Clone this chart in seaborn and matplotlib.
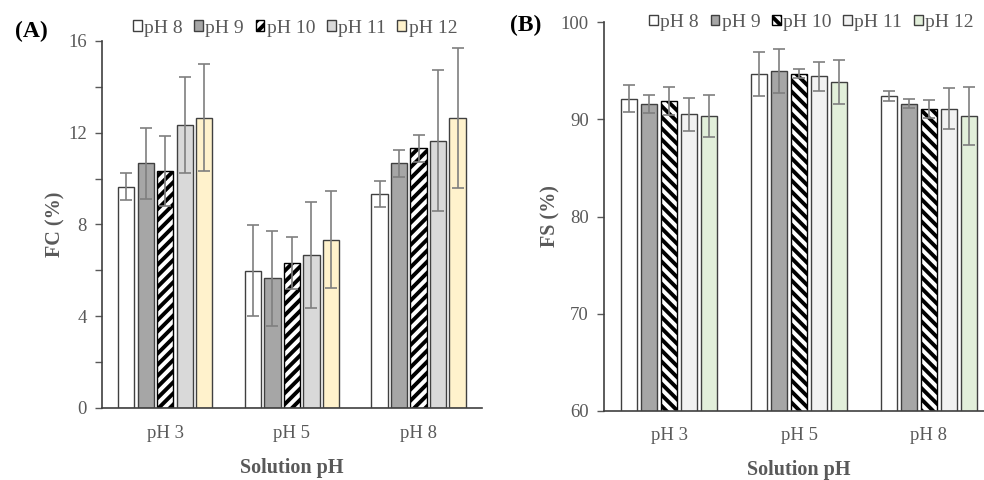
import numpy as np
import pandas as pd
import matplotlib
matplotlib.use("Agg")
import matplotlib.pyplot as plt
import seaborn as sns
from matplotlib.patches import Patch
from matplotlib.ticker import MultipleLocator

categories = ["pH 3", "pH 5", "pH 8"]
series = ["pH 8", "pH 9", "pH 10", "pH 11", "pH 12"]

# Panel A: FC (%)
fc_mean = {
    "pH 8":  [9.65, 5.99, 9.33],
    "pH 9":  [10.67, 5.65, 10.67],
    "pH 10": [10.34, 6.32, 11.32],
    "pH 11": [12.33, 6.66, 11.66],
    "pH 12": [12.66, 7.34, 12.66],
}
fc_err = {
    "pH 8":  [0.60, 2.00, 0.57],
    "pH 9":  [1.55, 2.08, 0.58],
    "pH 10": [1.52, 1.15, 0.58],
    "pH 11": [2.10, 2.30, 3.06],
    "pH 12": [2.32, 2.10, 3.05],
}
# Panel B: FS (%)
fs_mean = {
    "pH 8":  [92.15, 94.70, 92.40],
    "pH 9":  [91.62, 95.02, 91.60],
    "pH 10": [91.90, 94.72, 91.07],
    "pH 11": [90.56, 94.43, 91.10],
    "pH 12": [90.32, 93.85, 90.35],
}
fs_err = {
    "pH 8":  [1.35, 2.27, 0.48],
    "pH 9":  [0.93, 2.27, 0.47],
    "pH 10": [1.45, 0.48, 0.90],
    "pH 11": [1.70, 1.50, 2.10],
    "pH 12": [2.15, 2.23, 2.95],
}

colors_a = ["#ffffff", "#a6a6a6", "#ffffff", "#d9d9d9", "#fff2cc"]
colors_b = ["#ffffff", "#a6a6a6", "#ffffff", "#f2f2f2", "#e2efda"]

sns.set_theme(style="white")
plt.rcParams["font.family"] = ["Liberation Serif", "DejaVu Serif"]
plt.rcParams["hatch.linewidth"] = 2.8
plt.rcParams["hatch.color"] = "black"

TXT = "#595959"

fig = plt.figure(figsize=(9.84, 4.8), dpi=100)
axA = fig.add_axes([0.1037, 0.15, 0.386, 0.7646])
axB = fig.add_axes([0.614, 0.1444, 0.396, 0.809])


def long_df(mean):
    rows = []
    for s in series:
        for c, v in zip(categories, mean[s]):
            rows.append({"cat": c, "series": s, "val": v})
    return pd.DataFrame(rows)


def draw(ax, mean, err, colors, hatch, ylim, major, minor, ylabel, xpad, ypad):
    df = long_df(mean)
    sns.barplot(data=df, x="cat", y="val", hue="series", order=categories,
                hue_order=series, palette=colors, errorbar=None,
                edgecolor="#404040", linewidth=1.0, width=0.77, gap=0.17,
                legend=False, ax=ax, saturation=1)
    for i, (cont, s) in enumerate(zip(ax.containers, series)):
        xs = [b.get_x() + b.get_width() / 2 for b in cont]
        ys = [b.get_height() for b in cont]
        if i == 2:
            for b in cont:
                b.set_hatch(hatch)
                b.set_edgecolor("black")
        ax.errorbar(xs, ys, yerr=err[s], fmt="none", ecolor="#7f7f7f",
                    elinewidth=1.2, capsize=4, capthick=1.2, zorder=5)
    ax.set_ylim(*ylim)
    ax.set_xlim(-0.5, 2.5)
    ax.yaxis.set_major_locator(MultipleLocator(major))
    if minor:
        ax.yaxis.set_minor_locator(MultipleLocator(minor))
        ax.tick_params(axis="y", which="minor", length=5, width=1,
                       color="#595959", left=True)
    ax.tick_params(axis="y", which="major", length=5, width=1,
                   color="#595959", left=True, labelsize=13.5,
                   labelcolor=TXT, pad=6)
    ax.tick_params(axis="x", length=0, labelsize=13.5, labelcolor=TXT, pad=12)
    for sp in ["top", "right"]:
        ax.spines[sp].set_visible(False)
    for sp in ["left", "bottom"]:
        ax.spines[sp].set_color("#404040")
        ax.spines[sp].set_linewidth(1.2)
    ax.set_xlabel("Solution pH", fontsize=14.5, fontweight="bold", color=TXT,
                  labelpad=xpad)
    ax.set_ylabel(ylabel, fontsize=14.5, fontweight="bold", color=TXT,
                  labelpad=ypad)
    ax.grid(False)
    handles = []
    for i, (s, c) in enumerate(zip(series, colors)):
        handles.append(Patch(facecolor=c,
                             edgecolor="black" if i == 2 else "#404040",
                             linewidth=1.0,
                             hatch=hatch if i == 2 else None, label=s))
    return handles


hA = draw(axA, fc_mean, fc_err, colors_a, "///", (0, 16), 4, 2, "FC (%)",
          12, 2)
hB = draw(axB, fs_mean, fs_err, colors_b, "\\\\\\", (60, 100), 10, None,
          "FS (%)", 11, 0)

for ax, h, anchor in [(axA, hA, (0.508, 1.035)), (axB, hB, (0.532, 1.0))]:
    leg = ax.legend(handles=h, loc="center", bbox_to_anchor=anchor, ncol=5,
                    frameon=False, fontsize=14, handlelength=0.45,
                    handleheight=0.45, handletextpad=0.12, columnspacing=0.6,
                    borderaxespad=0)
    for t in leg.get_texts():
        t.set_color(TXT)

fig.text(0.015, 0.935, "(A)", fontsize=17, fontweight="bold", color="black",
         va="center", ha="left")
fig.text(0.518, 0.948, "(B)", fontsize=17, fontweight="bold", color="black",
         va="center", ha="left")

fig.savefig("out.png", dpi=100, facecolor="white")
